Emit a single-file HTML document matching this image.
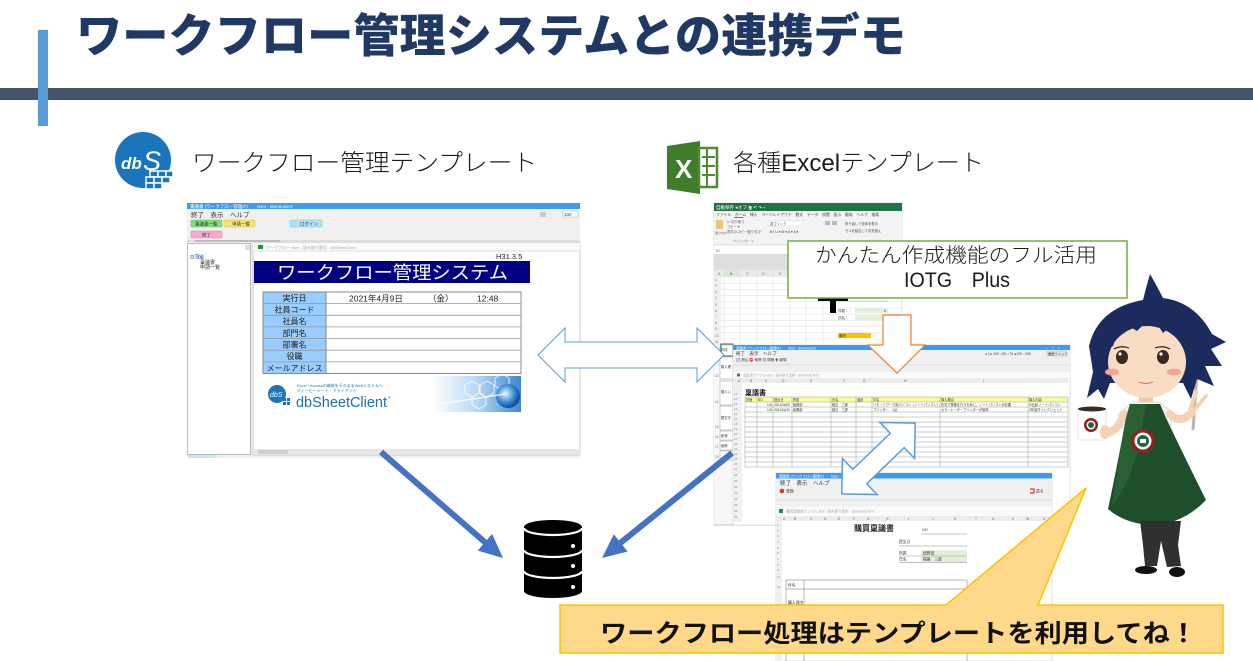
<!DOCTYPE html>
<html><head><meta charset="utf-8">
<style>
html,body{margin:0;padding:0;background:#fff;width:1253px;height:661px;overflow:hidden;}
svg{display:block;}
text{font-family:"Liberation Sans","Noto Sans CJK JP",sans-serif;}
</style></head><body>
<svg width="1253" height="661" viewBox="0 0 1253 661" xmlns="http://www.w3.org/2000/svg">
<rect width="1253" height="661" fill="#fff"/>

<!-- header -->
<rect x="0" y="88" width="1253" height="12" fill="#44546a"/>
<rect x="38" y="30" width="10" height="96" fill="#5b9bd5"/>
<text x="76" y="52" font-size="46" font-weight="900" fill="#203864" textLength="830" lengthAdjust="spacingAndGlyphs">ワークフロー管理システムとの連携デモ</text>

<!-- dbS icon -->
<circle cx="143" cy="160" r="28" fill="#1b75bc"/>
<text x="121" y="169" font-size="17" font-style="italic" font-weight="bold" fill="#fff">db</text>
<text x="143" y="170" font-size="27" font-style="italic" fill="#fff">S</text>
<g fill="#1b75bc" stroke="#fff" stroke-width="1.5">
<rect x="150" y="171" width="8" height="6"/><rect x="158" y="171" width="8" height="6"/><rect x="166" y="171" width="7" height="6"/>
<rect x="146" y="177" width="8" height="6"/><rect x="154" y="177" width="8" height="6"/><rect x="162" y="177" width="8" height="6"/>
<rect x="146" y="183" width="8" height="6"/><rect x="154" y="183" width="8" height="6"/>
</g>
<text x="192" y="171" font-size="24" font-weight="300" fill="#1a1a1a" textLength="345" lengthAdjust="spacingAndGlyphs">ワークフロー管理テンプレート</text>

<!-- Excel icon -->
<polygon points="667,146 700,141 700,194 667,189" fill="#3f7d2a"/>
<rect x="699" y="148" width="18" height="39" fill="#fff" stroke="#4e8a2e" stroke-width="2.5"/>
<g stroke="#4e8a2e" stroke-width="2"><line x1="702" y1="157" x2="715" y2="157"/><line x1="702" y1="166" x2="715" y2="166"/><line x1="702" y1="175" x2="715" y2="175"/><line x1="707" y1="149" x2="707" y2="186"/></g>
<text x="675" y="178" font-size="26" font-weight="bold" fill="#fff">X</text>
<text x="733" y="171" font-size="24" font-weight="300" fill="#1a1a1a" textLength="251" lengthAdjust="spacingAndGlyphs">各種Excelテンプレート</text>

<!-- ================= LEFT SCREENSHOT ================= -->
<rect x="187" y="203" width="393" height="255" fill="#f0f0f0"/>
<rect x="187" y="203" width="393" height="6" fill="#3c9af2"/>
<text x="190" y="208" font-size="4.5" fill="#fff">稟議書 (ワークフロー管理IT)　　User : demouser3</text>
<text x="191" y="217" font-size="6.5" fill="#333">終了　表示　ヘルプ</text>
<rect x="540" y="212" width="6" height="5" fill="#ccc"/>
<rect x="563" y="211" width="15" height="6" fill="#fff" stroke="#aaa" stroke-width="0.5"/>
<text x="564" y="216" font-size="4.5" fill="#333">100</text>
<rect x="191" y="220" width="31" height="7" rx="1" fill="#80df7d" stroke="#6b6" stroke-width="0.5"/>
<text x="195" y="225.5" font-size="4.5" fill="#333">稟議書一覧</text>
<rect x="224" y="220" width="31" height="7" rx="1" fill="#f7e27a" stroke="#cb5" stroke-width="0.5"/>
<text x="232" y="225.5" font-size="4.5" fill="#333">申請一覧</text>
<rect x="290" y="220" width="32" height="7" rx="1" fill="#aee0f7" stroke="#8bd" stroke-width="0.5"/>
<text x="300" y="225.5" font-size="4.5" fill="#333">ログイン</text>
<rect x="191" y="231" width="31" height="7" rx="1" fill="#f8a9c9" stroke="#d8a" stroke-width="0.5"/>
<text x="202" y="236.5" font-size="4.5" fill="#333">終了</text>
<line x1="187" y1="241" x2="580" y2="241" stroke="#ccc" stroke-width="1"/>
<rect x="195" y="240" width="85" height="2" fill="#bbb"/>
<!-- tree panel -->
<rect x="187.5" y="243.5" width="63" height="211" fill="#fff" stroke="#bbb" stroke-width="1"/>
<rect x="245" y="245" width="5" height="5" fill="#ddd"/>
<rect x="194" y="254" width="10" height="5" fill="#cde8ff"/>
<text x="190" y="258.5" font-size="5" fill="#336">⊟ Top</text>
<text x="200" y="264" font-size="5" fill="#333">稟議書</text>
<text x="200" y="269" font-size="5" fill="#333">申請一覧</text>
<!-- main panel -->
<rect x="253" y="243" width="327" height="212" fill="#fff" stroke="#ccc" stroke-width="1"/>
<rect x="253" y="243" width="327" height="8" fill="#fafafa"/>
<rect x="258" y="245" width="5" height="4" fill="#2e8b3e"/>
<text x="266" y="249" font-size="4" fill="#aaa">ワークフロー.xlsm  -  読み取り専用  -  dbSheetClient</text>
<line x1="253" y1="251" x2="580" y2="251" stroke="#ddd"/>
<text x="496" y="259" font-size="7.5" fill="#222">H31.3.5</text>
<rect x="254" y="261" width="276" height="22" fill="#000080"/>
<text x="277" y="279" font-size="18" fill="#fff" textLength="231" lengthAdjust="spacingAndGlyphs">ワークフロー管理システム</text>
<!-- table -->
<rect x="263" y="292" width="63" height="81.5" fill="#99ccff"/>
<rect x="263" y="292" width="258" height="81.5" fill="none" stroke="#888" stroke-width="1"/>
<line x1="326" y1="292" x2="326" y2="373.5" stroke="#888"/>
<g stroke="#999" stroke-width="0.8">
<line x1="263" y1="303.6" x2="521" y2="303.6"/><line x1="263" y1="315.3" x2="521" y2="315.3"/>
<line x1="263" y1="326.9" x2="521" y2="326.9"/><line x1="263" y1="338.6" x2="521" y2="338.6"/>
<line x1="263" y1="350.2" x2="521" y2="350.2"/><line x1="263" y1="361.9" x2="521" y2="361.9"/>
</g>
<g font-size="8" fill="#222" text-anchor="middle">
<text x="294.5" y="301">実行日</text>
<text x="294.5" y="312.6">社員コード</text>
<text x="294.5" y="324.2">社員名</text>
<text x="294.5" y="335.9">部門名</text>
<text x="294.5" y="347.5">部署名</text>
<text x="294.5" y="359.2">役職</text>
<text x="294.5" y="370.8">メールアドレス</text>
</g>
<text x="349" y="301.5" font-size="8.5" fill="#222">2021年4月9日</text>
<text x="428" y="301.5" font-size="8.5" fill="#222">（金）</text>
<text x="477" y="301.5" font-size="8.5" fill="#222">12:48</text>
<!-- logo -->
<circle cx="277" cy="394" r="9" fill="#1b75bc"/>
<text x="270" y="397" font-size="7" font-style="italic" fill="#fff">dbS</text>
<g fill="#1b75bc"><rect x="283" y="398" width="3" height="3"/><rect x="287" y="398" width="3" height="3"/><rect x="283" y="402" width="3" height="3"/><rect x="287" y="402" width="3" height="3"/></g>
<text x="297" y="387" font-size="4" fill="#1b75bc">Excel / Accessの機能をそのままWebシステムへ</text>
<text x="297" y="392" font-size="4" fill="#1b75bc">ディービーシート・クライアント</text>
<text x="296" y="407" font-size="14.5" fill="#1a6fb5" textLength="91" lengthAdjust="spacingAndGlyphs">dbSheetClient</text>
<text x="388" y="399" font-size="3.5" fill="#1a6fb5">®</text>
<!-- globe -->
<defs>
<linearGradient id="gl" x1="0" y1="0" x2="1" y2="0"><stop offset="0" stop-color="#fff"/><stop offset="0.5" stop-color="#b8d8f4"/><stop offset="1" stop-color="#3f86d0"/></linearGradient>
<radialGradient id="gb" cx="0.4" cy="0.4" r="0.6"><stop offset="0" stop-color="#e8f6ff"/><stop offset="0.6" stop-color="#3a8fd8"/><stop offset="1" stop-color="#0c4a96"/></radialGradient>
</defs>
<rect x="433" y="376" width="88" height="36" fill="url(#gl)"/>
<g fill="none" stroke="#fff" stroke-width="1" opacity="0.8">
<polygon points="465,385 472,381 479,385 479,393 472,397 465,393"/>
<polygon points="480,385 487,381 494,385 494,393 487,397 480,393"/>
<polygon points="472,397 479,393 486,397 486,405 479,409 472,405"/>
<polygon points="495,378 502,374 509,378 509,386 502,390 495,386"/>
</g>
<circle cx="508" cy="396" r="12" fill="url(#gb)"/>
<line x1="440" y1="404" x2="505" y2="394" stroke="#fff" stroke-width="1.5" opacity="0.8"/>
<!-- scrollbar -->
<rect x="253" y="449" width="327" height="6" fill="#e6e6e6"/>
<rect x="258" y="450" width="30" height="4" fill="#cfcfcf"/>
<rect x="188" y="455" width="28" height="3" fill="#bfe8ef"/>

<!-- ================= RIGHT SCREENSHOTS ================= -->
<!-- Excel window -->
<rect x="714" y="203" width="188" height="322" fill="#fff" stroke="#ccc" stroke-width="0.6"/>
<rect x="714" y="203" width="188" height="8" fill="#217346"/>
<text x="716" y="209" font-size="4.5" fill="#fff">自動保存 ●オフ  🖫 ↶ ↷ ▾</text>
<rect x="714" y="211" width="188" height="34" fill="#f3f3f3"/>
<text x="716" y="216" font-size="3.8" fill="#444">ファイル　ホーム　挿入　ページレイアウト　数式　データ　校閲　表示　開発　ヘルプ　検索</text>
<line x1="734" y1="217.5" x2="743" y2="217.5" stroke="#217346" stroke-width="0.8"/>
<rect x="716" y="220" width="7" height="9" fill="#e6c87a"/>
<text x="715" y="234" font-size="3" fill="#555">貼り付け</text>
<text x="727" y="223" font-size="3.3" fill="#555">✂ 切り取り</text>
<text x="727" y="228" font-size="3.3" fill="#555">コピー ▾</text>
<text x="727" y="233" font-size="3.3" fill="#555">書式のコピー/貼り付け</text>
<text x="733" y="242" font-size="3" fill="#777">クリップボード</text>
<rect x="768" y="221" width="35" height="5" fill="#fff" stroke="#ccc" stroke-width="0.4"/>
<text x="770" y="225" font-size="3.3" fill="#444">游ゴシック</text>
<text x="770" y="233" font-size="3.5" fill="#444">B  I  U ▾  ⊞ ▾  A ▾  A ▾</text>
<rect x="825" y="221" width="5" height="4" fill="#bbb"/><rect x="832" y="221" width="5" height="4" fill="#bbb"/>
<text x="845" y="225" font-size="3.3" fill="#444">折り返して全体を表示</text>
<text x="845" y="232" font-size="3.3" fill="#444">セルを結合して中央揃え</text>
<line x1="714" y1="245" x2="902" y2="245" stroke="#d4d4d4" stroke-width="0.8"/>
<rect x="714" y="246" width="188" height="8" fill="#fff"/>
<text x="716" y="252" font-size="3.5" fill="#777">B2</text>
<rect x="714" y="254" width="188" height="16" fill="#dedede"/>
<rect x="714" y="270" width="188" height="7" fill="#eaeaea"/>
<rect x="724" y="270" width="16" height="7" fill="#d7e9d7"/>
<g font-size="3.5" fill="#666">
<text x="718" y="275">A</text><text x="730" y="275">B</text><text x="746" y="275">C</text><text x="762" y="275">D</text><text x="779" y="275">E</text>
</g>
<g stroke="#e2e2e2" stroke-width="0.6">
<line x1="714" y1="283.2" x2="902" y2="283.2"/><line x1="714" y1="289.4" x2="902" y2="289.4"/>
<line x1="714" y1="295.6" x2="902" y2="295.6"/><line x1="714" y1="301.8" x2="902" y2="301.8"/>
<line x1="714" y1="308" x2="902" y2="308"/><line x1="714" y1="314.2" x2="902" y2="314.2"/>
<line x1="714" y1="320.4" x2="902" y2="320.4"/><line x1="714" y1="326.6" x2="902" y2="326.6"/>
<line x1="714" y1="332.8" x2="902" y2="332.8"/><line x1="714" y1="339" x2="902" y2="339"/>
<line x1="724" y1="270" x2="724" y2="345"/><line x1="740" y1="270" x2="740" y2="345"/>
<line x1="757" y1="270" x2="757" y2="345"/><line x1="773" y1="270" x2="773" y2="345"/>
<line x1="790" y1="270" x2="790" y2="345"/><line x1="806" y1="298" x2="806" y2="345"/>
<line x1="823" y1="298" x2="823" y2="345"/>
</g>
<rect x="714" y="277" width="7" height="68" fill="#f0f0f0"/>
<g font-size="3.3" fill="#777">
<text x="715" y="281">1</text><text x="715" y="287">2</text><text x="715" y="293">3</text><text x="715" y="299">4</text>
<text x="715" y="306">5</text><text x="715" y="312">6</text><text x="715" y="318">7</text><text x="715" y="324">8</text>
<text x="715" y="330">9</text><text x="715" y="337">10</text><text x="715" y="343">11</text>
</g>
<!-- cells under callout -->
<line x1="838" y1="301" x2="888" y2="301" stroke="#aaa" stroke-width="0.5"/>
<text x="838" y="312" font-size="3.5" fill="#333">件数：</text>
<rect x="855" y="308" width="33" height="5" fill="#e2efda"/>
<text x="884" y="312" font-size="3.5" fill="#333">0</text>
<text x="838" y="319" font-size="3.5" fill="#333">氏名：</text>
<rect x="855" y="315" width="33" height="5" fill="#e2efda"/>
<rect x="838" y="333" width="33" height="5" fill="#ffc000"/>
<text x="839" y="337" font-size="3.5" fill="#333">選択</text>
<!-- black T -->
<rect x="818" y="297" width="30" height="4" fill="#000"/>
<rect x="830" y="297" width="6" height="16" fill="#000"/>

<!-- left strip of Excel below -->
<rect x="714" y="345" width="19" height="180" fill="#f7f7f7"/>
<g fill="#fff" stroke="#999" stroke-width="0.5">
<rect x="720" y="345" width="13" height="11"/><rect x="720" y="357" width="13" height="22"/>
<rect x="720" y="381" width="13" height="24"/><rect x="720" y="406" width="13" height="24"/>
<rect x="720" y="431" width="13" height="9"/><rect x="720" y="441" width="13" height="9"/>
<rect x="720" y="451" width="13" height="9"/>
</g>
<rect x="721" y="344" width="12" height="12" fill="none" stroke="#217346" stroke-width="1"/>
<g font-size="3.3" fill="#333">
<text x="721" y="351">作成</text><text x="721" y="368">購入理</text><text x="721" y="393">購入い</text>
<text x="721" y="419">建文字</text><text x="721" y="437">新規</text><text x="721" y="447">削除</text>
</g>
<g font-size="3.2" fill="#777">
<text x="715" y="377">13</text><text x="715" y="403">14</text><text x="715" y="428">15</text>
<text x="715" y="438">16</text><text x="715" y="448">17</text><text x="715" y="458">18</text>
</g>
<line x1="714" y1="525" x2="1070" y2="525" stroke="#bbb" stroke-width="0.8"/>

<!-- second window -->
<rect x="733" y="345" width="337" height="180" fill="#fff" stroke="#ccc" stroke-width="0.6"/>
<rect x="733" y="345" width="337" height="5" fill="#3c9af2"/>
<text x="736" y="349.3" font-size="3.5" fill="#fff">稟議書 (ワークフロー管理IT)　　User : demouser3</text>
<text x="1045" y="349.3" font-size="3.5" fill="#fff">－　□　×</text>
<rect x="733" y="350" width="337" height="22" fill="#f0f0f0"/>
<text x="736" y="355" font-size="4.5" fill="#333">終了　表示　ヘルプ</text>
<text x="985" y="355" font-size="3.5" fill="#444">◂ ▯ ▸ 100  ○50 ○75 ●100 ○150</text>
<rect x="1047" y="351" width="20" height="5" fill="#e4e4e4" stroke="#aaa" stroke-width="0.4"/>
<text x="1048" y="355" font-size="3.3" fill="#333">画面フィット</text>
<text x="736" y="361" font-size="3.5" fill="#333">🔄 読込  ⛔ 削除  ▦ 詳細  ✚ 新規</text>
<line x1="733" y1="365" x2="1070" y2="365" stroke="#ddd"/>
<rect x="733" y="372" width="337" height="6" fill="#fafafa"/>
<rect x="737" y="373.5" width="3" height="3" fill="#2e8b3e"/>
<text x="743" y="376.5" font-size="3.3" fill="#aaa">稟議書サンプル.xlsx  -  読み取り専用  -  dbSheetClient</text>
<rect x="733" y="378" width="335" height="5" fill="#ececec"/>
<g font-size="3.3" fill="#666">
<text x="738" y="382">A</text><text x="750" y="382">B</text><text x="765" y="382">C</text><text x="782" y="382">D</text>
<text x="810" y="382">E</text><text x="843" y="382">F</text><text x="863" y="382">G</text><text x="904" y="382">H</text><text x="983" y="382">I</text>
</g>
<rect x="733" y="383" width="9" height="139" fill="#f0f0f0"/>
<text x="745" y="395" font-size="7" font-weight="bold" fill="#111">稟議書</text>
<rect x="745" y="397" width="323" height="5" fill="#ffff8c"/>
<g stroke="#999" stroke-width="0.5">
<line x1="745" y1="397" x2="1068" y2="397"/>
<line x1="745" y1="402" x2="1068" y2="402"/><line x1="745" y1="407" x2="1068" y2="407"/>
<line x1="745" y1="412" x2="1068" y2="412"/><line x1="745" y1="417" x2="1068" y2="417"/>
<line x1="745" y1="422" x2="1068" y2="422"/><line x1="745" y1="427" x2="1068" y2="427"/>
<line x1="745" y1="432" x2="1068" y2="432"/><line x1="745" y1="437" x2="1068" y2="437"/>
<line x1="745" y1="442" x2="1068" y2="442"/><line x1="745" y1="447" x2="1068" y2="447"/>
<line x1="745" y1="452" x2="1068" y2="452"/><line x1="745" y1="457" x2="1068" y2="457"/>
<line x1="745" y1="462" x2="1068" y2="462"/><line x1="745" y1="467" x2="1068" y2="467"/>
<line x1="745" y1="397" x2="745" y2="467"/><line x1="757" y1="397" x2="757" y2="467"/>
<line x1="773" y1="397" x2="773" y2="467"/><line x1="792" y1="397" x2="792" y2="467"/>
<line x1="831" y1="397" x2="831" y2="467"/><line x1="856" y1="397" x2="856" y2="467"/>
<line x1="872" y1="397" x2="872" y2="467"/><line x1="940" y1="397" x2="940" y2="467"/>
<line x1="1028" y1="397" x2="1028" y2="467"/><line x1="1068" y1="397" x2="1068" y2="467"/>
</g>
<g font-size="3.2" fill="#333">
<text x="746" y="401">状態</text><text x="758" y="401">NO</text><text x="774" y="401">提出日</text><text x="793" y="401">所属</text>
<text x="832" y="401">氏名</text><text x="857" y="401">進捗</text><text x="873" y="401">件名</text><text x="941" y="401">購入理由</text><text x="1029" y="401">購入内容</text>
<text x="767" y="406">101</text><text x="774" y="406">2021/04/09</text><text x="793" y="406">総務部</text><text x="832" y="406">稲島　三郎</text>
<text x="873" y="406">リモートワーク用パソコン（ノートパソコン）</text><text x="941" y="406">在宅で業務を行うために、ノートパソコンが必要</text><text x="1029" y="406">H社製 ノートパソコン</text>
<text x="767" y="411">102</text><text x="774" y="411">2021/04/10</text><text x="793" y="411">総務部</text><text x="832" y="411">稲島　三郎</text>
<text x="873" y="411">プリンター　1台</text><text x="941" y="411">カラーレーザープリンターが故障</text><text x="1029" y="411">2年保守インクジェット</text>
</g>
<g font-size="3" fill="#888">
<text x="734" y="395">12</text><text x="734" y="400">13</text><text x="734" y="405">14</text><text x="734" y="410">15</text>
<text x="734" y="415">16</text><text x="734" y="420">17</text><text x="734" y="425">18</text><text x="734" y="430">19</text>
<text x="734" y="435">20</text><text x="734" y="440">21</text><text x="734" y="445">22</text><text x="734" y="450">23</text>
<text x="734" y="455">24</text><text x="734" y="460">25</text><text x="734" y="465">26</text><text x="734" y="470">27</text>
<text x="734" y="476">28</text><text x="734" y="482">29</text><text x="734" y="488">30</text><text x="734" y="494">31</text>
<text x="734" y="500">32</text><text x="734" y="506">33</text><text x="734" y="512">34</text><text x="734" y="518">35</text>
</g>

<!-- third window -->
<rect x="776" y="473" width="276" height="188" fill="#fff" stroke="#ccc" stroke-width="0.6"/>
<rect x="776" y="473" width="276" height="5.5" fill="#3c9af2"/>
<text x="779" y="477.5" font-size="3.5" fill="#fff">稟議書 (ワークフロー管理IT)　　User : demo</text>
<rect x="776" y="478.5" width="276" height="28" fill="#f0f0f0"/>
<text x="780" y="485" font-size="5.5" fill="#333">終了　表示　ヘルプ</text>
<circle cx="782" cy="491" r="2.3" fill="#d33"/>
<text x="786" y="492.5" font-size="3.8" fill="#333">登録</text>
<path d="M1030,489 h4 v4 h-4" fill="none" stroke="#d33" stroke-width="1.2"/>
<text x="1036" y="492.5" font-size="3.8" fill="#333">戻る</text>
<line x1="776" y1="500" x2="1052" y2="500" stroke="#ddd"/>
<rect x="776" y="506.5" width="276" height="9" fill="#fafafa"/>
<rect x="779" y="509" width="4" height="4" fill="#2e8b3e"/>
<text x="786" y="512.5" font-size="3.5" fill="#aaa">購買稟議書サンプル.xlsx  -  読み取り専用  -  dbSheetClient</text>
<rect x="776" y="516" width="276" height="5" fill="#ececec"/>
<g font-size="3.3" fill="#666">
<text x="783" y="520">A</text><text x="794" y="520">B</text><text x="810" y="520">C</text><text x="824" y="520">D</text>
<text x="838" y="520">E</text><text x="853" y="520">F</text><text x="867" y="520">G</text><text x="886" y="520">H</text>
<text x="908" y="520">I</text><text x="932" y="520">J</text><text x="954" y="520">K</text><text x="975" y="520">T</text>
<text x="992" y="520">U</text><text x="1012" y="520">V</text><text x="1026" y="520">W</text><text x="1043" y="520">X</text>
</g>
<rect x="776" y="521" width="6" height="140" fill="#f0f0f0"/>
<g font-size="3" fill="#888">
<text x="777" y="526">1</text><text x="777" y="532">2</text><text x="777" y="537">3</text><text x="777" y="543">4</text>
<text x="777" y="549">5</text><text x="777" y="554">6</text><text x="777" y="560">7</text><text x="777" y="566">8</text>
<text x="777" y="571">9</text><text x="777" y="578">11</text><text x="777" y="588">12</text>
</g>
<text x="854" y="531" font-size="8" font-weight="bold" fill="#222">購買稟議書</text>
<text x="922" y="531" font-size="3.8" fill="#333">NO</text>
<line x1="921" y1="534" x2="967" y2="534" stroke="#888" stroke-width="0.6"/>
<text x="899" y="543" font-size="3.8" fill="#333">提出日</text>
<line x1="899" y1="546" x2="967" y2="546" stroke="#888" stroke-width="0.6"/>
<rect x="921" y="550" width="46" height="6" fill="#e2efda"/>
<rect x="921" y="556" width="46" height="6" fill="#e2efda"/>
<text x="899" y="554.5" font-size="3.8" fill="#333">所属</text><text x="923" y="554.5" font-size="3.8" fill="#333">総務部</text>
<text x="899" y="560.5" font-size="3.8" fill="#333">氏名</text><text x="923" y="560.5" font-size="3.8" fill="#333">稲島　三郎</text>
<line x1="899" y1="556" x2="967" y2="556" stroke="#999" stroke-width="0.5"/>
<line x1="899" y1="562.5" x2="967" y2="562.5" stroke="#888" stroke-width="0.6"/>
<rect x="786" y="580" width="181" height="90" fill="none" stroke="#999" stroke-width="0.7"/>
<line x1="786" y1="589" x2="967" y2="589" stroke="#999" stroke-width="0.7"/>
<line x1="804" y1="580" x2="804" y2="661" stroke="#999" stroke-width="0.7"/>
<text x="788" y="586.5" font-size="3.8" fill="#333">件名</text>
<text x="788" y="604" font-size="3.8" fill="#333">購入理由</text>

<!-- ================= ARROWS ================= -->
<polygon points="538,355 565,328 565,342 697,342 697,328 724,355 697,382 697,368 565,368 565,382" fill="#fff" stroke="#5b9bd5" stroke-width="1"/>
<polygon points="883,315 911,315 911,345 925,345 897,373 868,345 883,345" fill="#fff" stroke="#ed7d31" stroke-width="1.2"/>
<polygon transform="translate(878.5,458.5) rotate(-44)" points="-51,0 -26,-25 -26,-10 26,-10 26,-25 51,0 26,25 26,10 -26,10 -26,25" fill="#fff" stroke="#5b9bd5" stroke-width="1.5"/>

<!-- callout box -->
<rect x="788" y="241" width="339" height="57" fill="#fff" stroke="#70ad47" stroke-width="1.5"/>
<text x="815" y="262" font-size="20" font-weight="300" fill="#1a1a1a" textLength="282" lengthAdjust="spacingAndGlyphs">かんたん作成機能のフル活用</text>
<text x="904" y="287" font-size="21" fill="#1a1a1a" textLength="106" lengthAdjust="spacingAndGlyphs">IOTG　Plus</text>

<!-- blue arrows to DB -->
<line x1="381" y1="452" x2="487" y2="544" stroke="#4472c4" stroke-width="6"/>
<polygon points="503,558 477.7,550.6 492.1,534" fill="#4472c4"/>
<line x1="732" y1="453" x2="619" y2="544" stroke="#4472c4" stroke-width="6"/>
<polygon points="602,558 613.8,534.3 627.6,551.5" fill="#4472c4"/>

<!-- DB icon -->
<path d="M524,527 A29,7 0 0 1 582,527 L582,591 A29,7 0 0 1 524,591 Z" fill="#000"/>
<g fill="none" stroke="#fff" stroke-width="2.2">
<path d="M524,528 A29,7 0 0 0 582,528"/>
<path d="M524,550 A29,7 0 0 0 582,550"/>
<path d="M524,571 A29,7 0 0 0 582,571"/>
</g>
<g fill="#fff"><circle cx="573" cy="546" r="2"/><circle cx="573" cy="566" r="2"/><circle cx="573" cy="587" r="2"/></g>

<!-- yellow callout -->
<path d="M560,605 L946,605 L1086,488 L1038,605 L1223,605 L1223,653 L560,653 Z" fill="#ffd98a" stroke="#ffc000" stroke-width="1.5"/>
<text x="600" y="642" font-size="25" font-weight="bold" fill="#111" textLength="597" lengthAdjust="spacingAndGlyphs">ワークフロー処理はテンプレートを利用してね！</text>

<!-- ================= CHARACTER ================= -->
<line x1="1198" y1="357" x2="1193" y2="430" stroke="#b5b5b5" stroke-width="3"/>
<circle cx="1198" cy="356" r="3" fill="#e6e6e6" stroke="#999" stroke-width="0.8"/>
<path d="M1143,300 Q1147,284 1150,274 Q1158,288 1163,298 Q1195,302 1212,334 L1226,342 L1211,349 L1222,366 L1205,366 L1214,386 L1197,379 L1191,399 L1183,383 L1110,383 L1104,399 L1098,389 L1087,398 L1093,372 L1089,346 Q1098,308 1143,300 Z" fill="#1c2b5e"/>
<rect x="1139" y="393" width="14" height="12" fill="#f1c7a5"/>
<ellipse cx="1147" cy="362" rx="39" ry="36" fill="#f9dcc4"/>
<path d="M1104,352 Q1106,314 1146,307 Q1188,311 1194,348 L1183,337 L1176,322 L1163,333 L1152,316 L1137,331 L1122,322 L1113,346 Z" fill="#1c2b5e"/>
<ellipse cx="1122" cy="357" rx="6" ry="7" fill="#3b2822"/>
<ellipse cx="1163" cy="357" rx="6" ry="7" fill="#3b2822"/>
<circle cx="1120" cy="354" r="1.6" fill="#fff"/><circle cx="1161" cy="354" r="1.6" fill="#fff"/>
<path d="M1114,349 Q1121,345 1129,348" stroke="#222" stroke-width="1.2" fill="none"/>
<path d="M1155,348 Q1163,345 1170,349" stroke="#222" stroke-width="1.2" fill="none"/>
<ellipse cx="1112" cy="372" rx="7" ry="3.5" fill="#f4a593"/>
<ellipse cx="1174" cy="372" rx="7" ry="3.5" fill="#f4a593"/>
<path d="M1139,382 Q1146,385 1153,382" stroke="#d07a6a" stroke-width="1.2" fill="none"/>
<path d="M1118,414 L1132,402 L1160,402 L1174,414 L1170,428 L1122,428 Z" fill="#f2f2f2" stroke="#ccc" stroke-width="0.6"/>
<path d="M1124,414 Q1118,432 1104,434" stroke="#f6d2b4" stroke-width="8" fill="none" stroke-linecap="round"/>
<path d="M1170,414 Q1180,425 1192,412" stroke="#f6d2b4" stroke-width="8" fill="none" stroke-linecap="round"/>
<path d="M1190,410 L1196,392 M1194,410 L1206,396" stroke="#f6d2b4" stroke-width="4" stroke-linecap="round"/>
<path d="M1130,404 L1160,404 L1166,418 Q1186,460 1206,500 Q1182,525 1150,525 Q1124,523 1108,509 Q1118,462 1126,418 Z" fill="#1f4e2b"/>
<path d="M1130,404 L1146,404 L1140,440 Q1132,480 1112,506 Q1118,462 1126,418 Z" fill="#2a5f34"/>
<circle cx="1143" cy="441" r="12" fill="#8a2323"/>
<circle cx="1143" cy="441" r="8.5" fill="#fff"/>
<circle cx="1143" cy="441" r="6" fill="#1e6b3a"/>
<rect x="1140" y="439" width="6" height="4" fill="#fff"/>
<rect x="1078" y="408" width="28" height="32" rx="2" fill="#fff" stroke="#ddd" stroke-width="0.8"/>
<ellipse cx="1092" cy="409" rx="14" ry="2.5" fill="#3b2a20"/>
<circle cx="1091" cy="425" r="7" fill="#8a2323"/>
<circle cx="1091" cy="425" r="4.5" fill="#fff"/>
<circle cx="1091" cy="425" r="3" fill="#1e6b3a"/>
<ellipse cx="1105" cy="432" rx="5" ry="7" fill="#f6d2b4"/>
<path d="M1140,521 L1181,521 L1178,545 L1181,566 L1167,567 L1161,541 L1157,566 L1145,566 L1143,545 Z" fill="#303030"/>
<ellipse cx="1146" cy="570" rx="11" ry="4" fill="#111"/>
<ellipse cx="1177" cy="572" rx="8" ry="5" fill="#111"/>
</svg>
</body></html>
